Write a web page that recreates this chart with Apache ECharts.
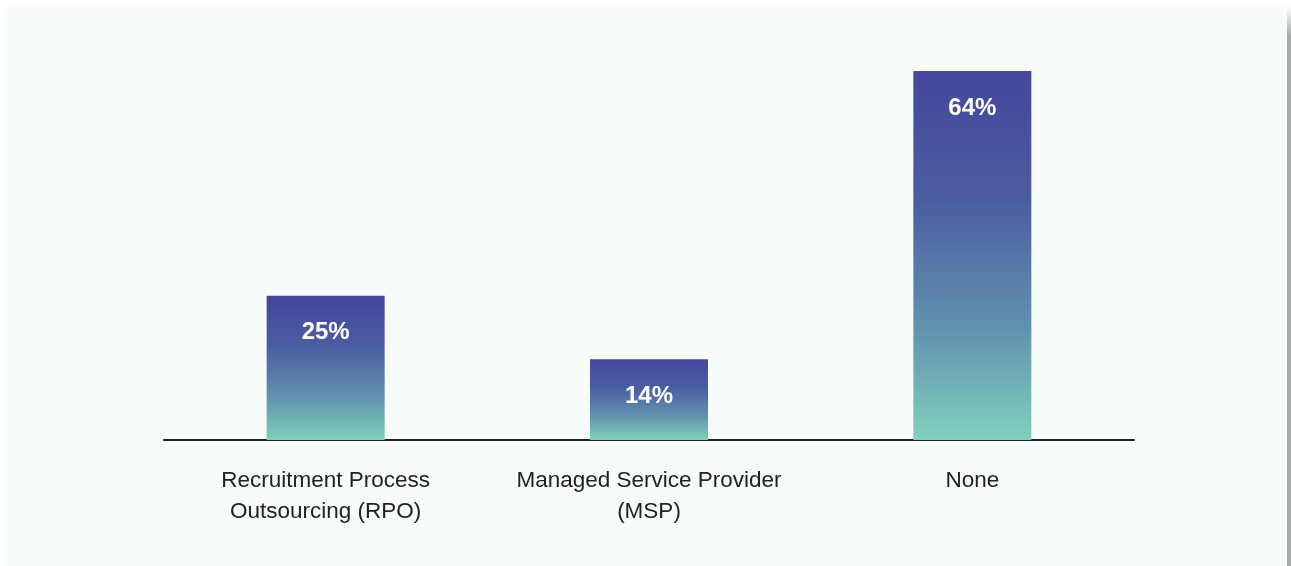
<!DOCTYPE html>
<html>
<head>
<meta charset="utf-8">
<script src="https://cdn.jsdelivr.net/npm/echarts@6/dist/echarts.min.js"></script>
<style>
html,body{margin:0;padding:0;background:#ffffff;}
#wrap{position:relative;width:1291px;height:566px;overflow:hidden;}
#panel{position:absolute;left:6px;top:6px;width:1281px;height:560px;background:#f7fcfb;}
#edge{position:absolute;left:1287px;top:6px;width:4px;height:560px;background:linear-gradient(to bottom,#ffffff 0px,#e8e8e8 8px,#aaaaaa 30px,#aaaaaa 100%);}
#chart{position:absolute;left:0;top:0;width:1291px;height:566px;}
</style>
</head>
<body>
<div id="wrap">
<div id="panel"></div>
<div id="edge"></div>
<div id="chart"></div>
</div>
<script>
const categories = ['Recruitment Process\nOutsourcing (RPO)', 'Managed Service Provider\n(MSP)', 'None'];
const values = [25, 14, 64];

const chart = echarts.init(document.getElementById('chart'), null, {renderer: 'canvas'});
chart.setOption({
  backgroundColor: 'transparent',
  animation: false,
  grid: {left: 164, right: 157, top: 71, bottom: 126, containLabel: false},
  xAxis: {
    type: 'category',
    data: categories,
    axisLine: {show: true, lineStyle: {color: '#222222', width: 2}},
    axisTick: {show: false},
    axisLabel: {
      interval: 0,
      hideOverlap: false,
      color: '#222222', fontSize: 22.5, lineHeight: 31, margin: 25,
      fontFamily: 'Liberation Sans, Arial, Helvetica, sans-serif'
    }
  },
  yAxis: {
    type: 'value', min: 0, max: 64,
    show: false,
    splitLine: {show: false}
  },
  series: [{
    type: 'bar',
    data: values,
    barWidth: 118,
    itemStyle: {
      color: new echarts.graphic.LinearGradient(0, 0, 0, 1, [
        {offset: 0, color: '#45469c'},
        {offset: 0.35, color: '#4b5da2'},
        {offset: 0.7, color: '#6292ae'},
        {offset: 1, color: '#80d1bd'}
      ])
    },
    label: {
      show: true,
      position: 'insideTop',
      distance: 25,
      formatter: '{c}%',
      color: '#ffffff',
      fontSize: 24,
      fontWeight: 'bold',
      fontFamily: 'Liberation Sans, Arial, Helvetica, sans-serif'
    }
  }]
});
</script>
</body>
</html>
